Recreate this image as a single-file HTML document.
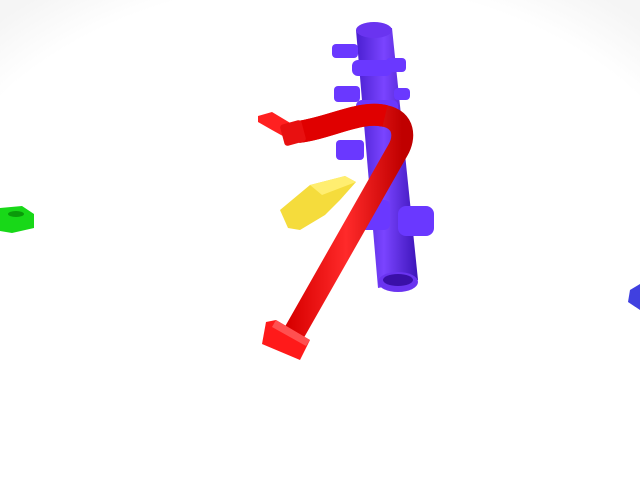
<!DOCTYPE html>
<html><head><meta charset="utf-8"><style>
html,body{margin:0;padding:0;background:#fff;width:640px;height:480px;overflow:hidden}
</style></head><body>
<svg width="640" height="480" viewBox="0 0 640 480">
<defs>
<radialGradient id="bg" cx="50%" cy="60%" r="75%"><stop offset="85%" stop-color="#fff"/><stop offset="100%" stop-color="#f5f5f5"/></radialGradient>
<linearGradient id="pur" x1="0" y1="0" x2="1" y2="0"><stop offset="0" stop-color="#4a1fd0"/><stop offset="0.45" stop-color="#7a44ff"/><stop offset="1" stop-color="#3c14b8"/></linearGradient>
<linearGradient id="red" x1="0" y1="0" x2="1" y2="0"><stop offset="0" stop-color="#d80000"/><stop offset="0.5" stop-color="#ff2a2a"/><stop offset="1" stop-color="#c00000"/></linearGradient>
</defs>
<rect width="640" height="480" fill="url(#bg)"/>
<g>
<path d="M356 30 L392 28 L418 280 L378 288 Z" fill="url(#pur)"/>
<ellipse cx="374" cy="30" rx="18" ry="8" fill="#6a34f0"/>
<ellipse cx="398" cy="282" rx="20" ry="10" fill="#6a34f0"/>
<ellipse cx="398" cy="280" rx="15" ry="6" fill="#3a10a8"/>
<g fill="#6a38ff">
<rect x="332" y="44" width="26" height="14" rx="4"/>
<rect x="334" y="86" width="26" height="16" rx="4"/>
<rect x="336" y="140" width="28" height="20" rx="4"/>
<rect x="386" y="58" width="20" height="14" rx="4"/>
<rect x="394" y="88" width="16" height="12" rx="4"/>
<rect x="398" y="206" width="36" height="30" rx="8"/>
<rect x="360" y="200" width="30" height="30" rx="6"/>
<rect x="352" y="60" width="40" height="16" rx="6"/>
<rect x="356" y="100" width="42" height="18" rx="6"/>
</g>
</g>
<g>
<path d="M280 210 L310 185 L345 176 L356 182 L340 200 L325 215 L300 230 L288 228 Z" fill="#f5dc3c"/>
<path d="M310 185 L345 176 L356 182 L322 195 Z" fill="#ffee70"/>
</g>
<g>
<path d="M298 132 C330 128 360 110 385 116 C405 120 405 138 398 150 L290 340" fill="none" stroke="url(#red)" stroke-width="22" stroke-linejoin="round"/>
<path d="M298 132 C330 128 360 110 385 116" fill="none" stroke="#e00000" stroke-width="22"/>
<path d="M258 116 L272 112 L292 124 L290 140 L272 130 L258 122 Z" fill="#ff2020"/>
<rect x="282" y="122" width="22" height="22" rx="3" fill="#e81010" transform="rotate(-15 293 133)"/>
<path d="M266 322 L276 320 L310 340 L300 360 L262 344 Z" fill="#ff1a1a"/>
<path d="M276 320 L310 340 L306 346 L272 327 Z" fill="#ff5050"/>
</g>
<path d="M0 208 L22 206 L34 214 L34 228 L12 233 L0 231 Z" fill="#18d818"/>
<ellipse cx="16" cy="214" rx="8" ry="3" fill="#0a9a0a"/>
<path d="M640 284 L630 290 L628 302 L640 310 Z" fill="#4040e0"/>
</svg>
</body></html>
